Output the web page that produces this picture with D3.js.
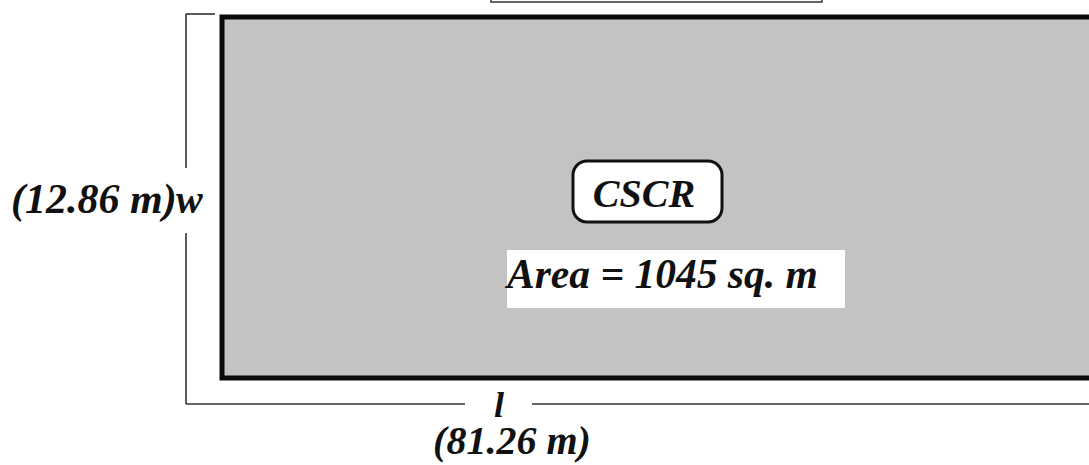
<!DOCTYPE html>
<html>
	<head>
		<meta charset="UTF-8">
		<title>CSCR area</title>
		<style type="text/css">
		body {
			margin: 0;
			background: white;
		}
		text {
			font-family: "Liberation Serif", "DejaVu Serif", serif;
			font-weight: bold;
			font-style: italic;
			fill: #111;
		}
		.dim {
			stroke: #333;
			stroke-width: 1.6;
			fill: none;
		}
		</style>
	</head>
	<body>
		<script src="https://d3js.org/d3.v7.min.js"></script>
		<script type="text/javascript">
			// room dimensions (metres)
			var roomName = "CSCR";
			var roomLength = 81.26;
			var roomWidth = 12.86;
			var roomArea = 1045;
			var lengthLabels = ["l", "(" + roomLength + " m)"];
			var widthLabels = ["(" + roomWidth + " m)", "w"];
			var areaLabel = "Area = " + roomArea + " sq. m";

			var width = 1089, height = 465;

			// scales: the drawing is not to scale, the room fills the frame
			var x = d3.scaleLinear()
				.domain([0, roomLength])
				.range([222, 1110]);
			var y = d3.scaleLinear()
				.domain([0, roomWidth])
				.range([17, 378]);

			var svg = d3.select("body")
				.append("svg")
					.attr("width", width)
					.attr("height", height);

			// box cut off at the top of the picture
			svg.append("rect")
				.attr("x", 491)
				.attr("y", -10)
				.attr("width", 331)
				.attr("height", 12)
				.attr("fill", "white")
				.attr("stroke", "#333")
				.attr("stroke-width", 1.5);

			// the room itself
			svg.append("rect")
				.attr("x", x(0))
				.attr("y", y(0))
				.attr("width", x(roomLength) - x(0))
				.attr("height", y(roomWidth) - y(0))
				.attr("fill", "#c3c3c3")
				.attr("stroke", "#0a0a0a")
				.attr("stroke-width", 5);

			// dimension bracket: left side and bottom
			var bx = 186, byTop = 14, byBot = 404;
			var dims = svg.append("g").attr("class", "dim");
			dims.append("line").attr("x1", bx).attr("y1", byTop).attr("x2", 215).attr("y2", byTop);
			dims.append("line").attr("x1", bx).attr("y1", byTop).attr("x2", bx).attr("y2", 168);
			dims.append("line").attr("x1", bx).attr("y1", 233).attr("x2", bx).attr("y2", byBot);
			dims.append("line").attr("x1", bx).attr("y1", byBot).attr("x2", 465).attr("y2", byBot);
			dims.append("line").attr("x1", 532).attr("y1", byBot).attr("x2", width).attr("y2", byBot);

			// width label
			svg.append("text")
				.attr("x", 11)
				.attr("y", 213)
				.attr("font-size", 42)
				.text(widthLabels[0]);
			svg.append("text")
				.attr("x", 176)
				.attr("y", 213)
				.attr("font-size", 40)
				.text(widthLabels[1]);

			// length labels
			svg.append("text")
				.attr("x", 499)
				.attr("y", 417)
				.attr("text-anchor", "middle")
				.attr("font-size", 36)
				.text(lengthLabels[0]);
			svg.append("text")
				.attr("x", 512)
				.attr("y", 454)
				.attr("text-anchor", "middle")
				.attr("font-size", 40)
				.text(lengthLabels[1]);

			// room name in a rounded box
			svg.append("rect")
				.attr("x", 573)
				.attr("y", 161)
				.attr("width", 149)
				.attr("height", 61)
				.attr("rx", 14)
				.attr("fill", "white")
				.attr("stroke", "#111")
				.attr("stroke-width", 3);
			svg.append("text")
				.attr("x", 644)
				.attr("y", 207)
				.attr("text-anchor", "middle")
				.attr("font-size", 40)
				.text(roomName);

			// area label on a white panel
			svg.append("rect")
				.attr("x", 507)
				.attr("y", 250)
				.attr("width", 338)
				.attr("height", 58)
				.attr("fill", "white");
			svg.append("text")
				.attr("x", 507)
				.attr("y", 288)
				.attr("font-size", 41.5)
				.text(areaLabel);
		</script>
	</body>
</html>
